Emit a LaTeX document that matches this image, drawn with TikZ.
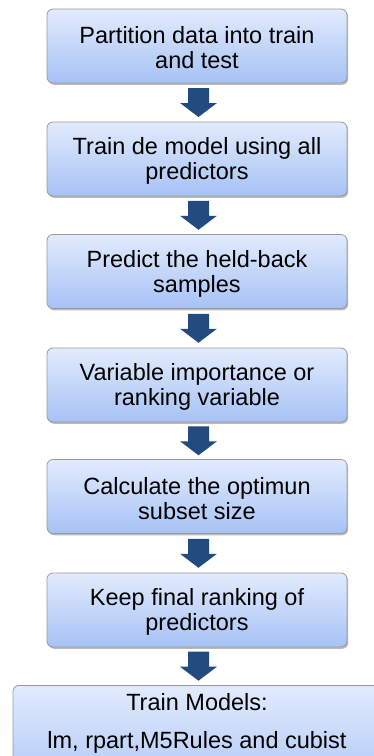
\documentclass[tikz,border=0pt]{standalone}
\usepackage{fontspec}
\setmainfont{Liberation Sans}
\usetikzlibrary{calc,shadows}
\definecolor{boxtop}{HTML}{E2EBFD}
\definecolor{boxbot}{HTML}{A6C2F5}
\definecolor{boxline}{HTML}{9A9A9A}
\definecolor{arrowc}{HTML}{244B80}
\tikzset{
  stepbox/.style={rectangle, rounded corners=6pt, draw=boxline, line width=0.8pt,
    top color=boxtop, bottom color=boxbot,
    drop shadow={shadow xshift=1.2pt, shadow yshift=-1.8pt, fill=black!45, opacity=0.6},
    minimum width=300pt, minimum height=74pt, inner sep=0pt, align=center,
    font=\fontsize{23.5pt}{25pt}\selectfont},
  flowarrow/.style={fill=arrowc}
}
\newcommand{\flowarrow}[2]{%
  \fill[flowarrow] ($(#1.south)!0.5!(#2.north)+(1.5,0)$) ++(-10.5,-14.5) -- ++(21,0) -- ++(0,15)
    -- ++(8,0) -- ++(-18.5,14) -- ++(-18.5,-14) -- ++(8,0) -- cycle;}
\newcommand{\topstrut}{\rule{0pt}{21pt}}
\begin{document}
\begin{tikzpicture}[x=1pt,y=-1pt]
\useasboundingbox (0,0) rectangle (374,756);
\clip (0,0) rectangle (374,756);
\node[stepbox] (b1) at (197,46) {\topstrut Partition data into train\\and test};
\node[stepbox] (b2) at (197,159) {\topstrut Train de model using all\\predictors};
\node[stepbox] (b3) at (197,271.5) {\topstrut Predict the held-back\\samples};
\node[stepbox] (b4) at (197,385) {\topstrut Variable importance or\\ranking variable};
\node[stepbox] (b5) at (197,496.5) {\topstrut Calculate the optimun\\subset size};
\node[stepbox] (b6) at (197,610) {\topstrut Keep final ranking of\\predictors};
\node[stepbox, anchor=north, inner ysep=8.5pt, inner xsep=0pt] (b7) at (197,685)
  {\parbox[t][100pt][t]{368pt}{\centering Train Models:\\[13pt] lm, rpart,M5Rules and cubist}};
\flowarrow{b1}{b2}
\flowarrow{b2}{b3}
\flowarrow{b3}{b4}
\flowarrow{b4}{b5}
\flowarrow{b5}{b6}
\flowarrow{b6}{b7}
\end{tikzpicture}
\end{document}
